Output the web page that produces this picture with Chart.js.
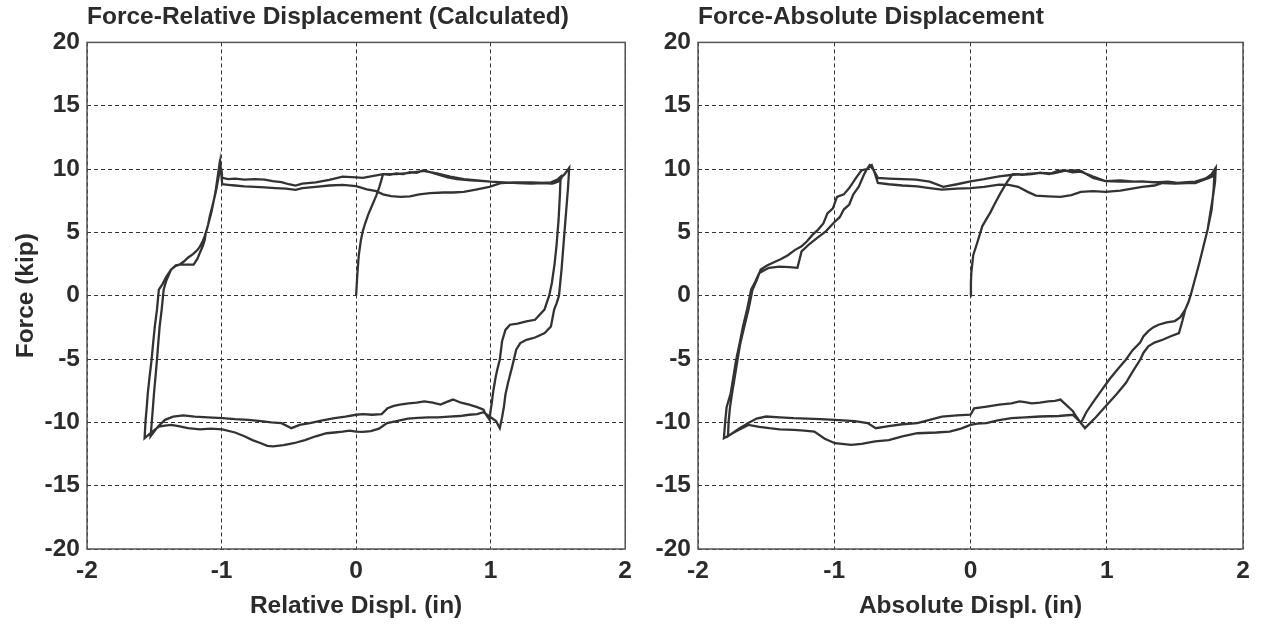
<!DOCTYPE html>
<html>
<head>
<meta charset="utf-8">
<script src="https://cdn.jsdelivr.net/npm/chart.js@4.4.1/dist/chart.umd.min.js"></script>
<style>
  html, body { margin: 0; padding: 0; background: #fff; }
  .panel { position: absolute; top: 0; height: 624px; }
  #leftBox { left: 0; width: 640px; }
  #rightBox { left: 640px; width: 630px; }
</style>
</head>
<body>
<div class="panel" id="leftBox"><canvas id="relChart"></canvas></div>
<div class="panel" id="rightBox"><canvas id="absChart"></canvas></div>
<script>
// Force vs. relative displacement (calculated), path order
const relDispl = [
  0, 0.01, 0.02, 0.036, 0.05, 0.067, 0.09, 0.118, 0.15, 0.173, 0.19, 0.2,
  0.25, 0.3, 0.35, 0.4, 0.45, 0.5, 0.55, 0.6, 0.68, 0.75, 0.85, 0.95, 1.0, 1.1, 1.2, 1.3, 1.38, 1.45, 1.5, 1.52,
  1.515, 1.505, 1.49, 1.475, 1.455, 1.435, 1.40, 1.33, 1.266, 1.2, 1.144, 1.11, 1.085, 1.068, 1.05, 1.038, 1.02, 1.008, 0.998, 0.992,
  0.96, 0.947, 0.9, 0.84, 0.78, 0.72, 0.67, 0.628, 0.57, 0.507, 0.45, 0.39, 0.325, 0.28, 0.234, 0.19, 0.12, 0.05, 0, -0.08, -0.16, -0.25, -0.343, -0.42, -0.48, -0.555, -0.63, -0.707, -0.8, -0.9, -0.995, -1.1, -1.2, -1.284, -1.36, -1.42, -1.47, -1.527,
  -1.515, -1.502, -1.49, -1.48, -1.47, -1.46, -1.445, -1.43, -1.41, -1.375, -1.34, -1.314, -1.26, -1.208, -1.18, -1.162, -1.14, -1.125, -1.117, -1.1, -1.087, -1.07, -1.056, -1.045, -1.035, -1.02, -1.01,
  -1.0, -0.995, -0.95, -0.9, -0.83, -0.75, -0.68, -0.6, -0.52, -0.45, -0.4, -0.3, -0.2, -0.1, 0, 0.08, 0.15, 0.2, 0.26, 0.33, 0.4, 0.47, 0.55, 0.65, 0.72, 0.8, 0.9, 0.99, 1.08, 1.18, 1.3, 1.4, 1.45, 1.5, 1.55, 1.584,
  1.575, 1.56, 1.545, 1.528, 1.508, 1.49, 1.472, 1.448, 1.402, 1.33, 1.266, 1.22, 1.19, 1.16, 1.129, 1.11, 1.099, 1.085, 1.068,
  1.04, 1.0, 0.947, 0.9, 0.84, 0.77, 0.69, 0.61, 0.537, 0.46, 0.385, 0.3, 0.23, 0.17, 0.11, 0.05, 0, -0.05, -0.1, -0.16, -0.22, -0.3, -0.38, -0.464, -0.54, -0.616, -0.66, -0.707, -0.77, -0.83, -0.9, -0.995, -1.08, -1.16, -1.25, -1.32, -1.375, -1.42, -1.466, -1.52, -1.572,
  -1.565, -1.556, -1.548, -1.535, -1.52, -1.508, -1.496, -1.48, -1.466, -1.44, -1.41, -1.375, -1.34, -1.314, -1.28, -1.25, -1.21, -1.18, -1.16, -1.14, -1.125, -1.11, -1.095, -1.075, -1.06, -1.045, -1.03, -1.015,
  -1.0, -0.995, -0.95, -0.9, -0.83, -0.75, -0.68, -0.62, -0.555, -0.5, -0.45, -0.4, -0.3, -0.2, -0.1, 0, 0.05, 0.12, 0.2, 0.3, 0.4, 0.5, 0.6, 0.7, 0.8, 0.9, 1.0, 1.1, 1.2, 1.3, 1.4, 1.46, 1.5, 1.53
];
const relForce = [
  0, 1.8, 3.2, 4.4, 5.1, 5.7, 6.4, 7.1, 7.9, 8.6, 9.2, 9.6,
  9.55, 9.65, 9.6, 9.75, 9.7, 9.9, 9.75, 9.6, 9.35, 9.2, 9.1, 9.05, 9.0, 8.95, 8.9, 8.85, 8.9, 8.95, 9.2, 9.4,
  8.0, 6.0, 4.0, 2.5, 1.0, 0.0, -1.1, -1.9, -2.03, -2.2, -2.29, -2.7, -3.6, -5.06, -5.8, -6.38, -7.5, -8.5, -9.2, -9.8,
  -9.3, -9.0, -8.8, -8.6, -8.45, -8.2, -8.4, -8.6, -8.45, -8.35, -8.45, -8.5, -8.6, -8.7, -8.88, -9.35, -9.4, -9.35, -9.4, -9.55, -9.67, -9.85, -10.06, -10.2, -10.46, -10.06, -10.0, -9.9, -9.8, -9.75, -9.67, -9.6, -9.55, -9.45, -9.55, -9.8, -10.3, -11.1,
  -9.5, -7.7, -6.3, -5.06, -3.7, -2.43, -1.1, 0.5, 1.2, 2.06, 2.4, 2.45, 2.45, 2.45, 2.9, 3.37, 3.9, 4.4, 4.98, 5.6, 6.3, 7.0, 7.6, 8.1, 8.6, 9.5, 10.5,
  9.4, 8.8, 8.75, 8.7, 8.64, 8.6, 8.55, 8.5, 8.45, 8.35, 8.5, 8.6, 8.7, 8.75, 8.65, 8.4, 8.25, 8.0, 7.86, 7.8, 7.85, 8.0, 8.1, 8.15, 8.15, 8.2, 8.4, 8.6, 8.9, 8.95, 8.95, 8.9, 8.85, 9.1, 9.6, 10.1,
  8.5, 6.5, 4.5, 2.2, 0, -0.6, -1.1, -2.43, -2.95, -3.3, -3.48, -3.74, -4.27, -5.6, -6.9, -7.8, -8.75, -9.6, -10.46,
  -9.9, -9.6, -9.2, -9.35, -9.4, -9.5, -9.54, -9.6, -9.6, -9.65, -9.7, -9.9, -10.06, -10.5, -10.7, -10.75, -10.73, -10.65, -10.73, -10.8, -10.86, -11.1, -11.4, -11.65, -11.8, -11.9, -11.85, -11.65, -11.4, -11.1, -10.8, -10.56, -10.5, -10.55, -10.45, -10.3, -10.2, -10.25, -10.33, -10.8, -11.25,
  -9.9, -8.8, -7.7, -6.4, -5.06, -3.7, -2.43, -1.1, 0.47, 0.9, 1.5, 2.06, 2.35, 2.45, 2.7, 3.0, 3.3, 3.6, 3.9, 4.3, 4.7, 5.2, 5.8, 6.6, 7.4, 8.2, 9.3, 10.4,
  9.9, 9.3, 9.2, 9.25, 9.17, 9.2, 9.17, 9.05, 8.96, 8.8, 8.7, 8.85, 8.95, 9.15, 9.4, 9.35, 9.3, 9.45, 9.6, 9.6, 9.7, 9.85, 9.65, 9.4, 9.2, 9.1, 9.0, 8.95, 8.9, 8.85, 8.9, 8.85, 9.0, 9.3
];

// Force vs. absolute displacement
const absDispl = [
  0, 0.003, 0.006, 0.02, 0.05, 0.087, 0.12, 0.147, 0.18, 0.22, 0.27, 0.31,
  0.38, 0.45, 0.51, 0.58, 0.64, 0.69, 0.75, 0.81, 0.9, 0.99, 1.1, 1.2, 1.26, 1.35, 1.45, 1.52, 1.59, 1.65, 1.71, 1.76, 1.79,
  1.785, 1.77, 1.74, 1.71, 1.68, 1.65, 1.62, 1.6, 1.576, 1.54, 1.5, 1.44, 1.38, 1.34, 1.305, 1.27, 1.245, 1.19, 1.14, 1.08, 1.02, 0.96, 0.9, 0.85, 0.81,
  0.78, 0.75, 0.7, 0.66, 0.62, 0.57, 0.51, 0.45, 0.4, 0.36, 0.3, 0.21, 0.12, 0.027, 0, -0.1, -0.21, -0.3, -0.39, -0.5, -0.6, -0.695, -0.755, -0.85, -0.995, -1.1, -1.2, -1.296, -1.4, -1.5, -1.57, -1.63, -1.7, -1.78,
  -1.775, -1.765, -1.75, -1.73, -1.71, -1.69, -1.66, -1.63, -1.6, -1.57, -1.54, -1.49, -1.45, -1.39, -1.34, -1.29, -1.24, -1.2, -1.16, -1.12, -1.08, -1.05, -1.01, -0.98, -0.93, -0.89, -0.84, -0.8, -0.76, -0.725,
  -0.7, -0.68, -0.6, -0.5, -0.39, -0.3, -0.21, -0.1, 0, 0.1, 0.21, 0.28, 0.35, 0.42, 0.48, 0.57, 0.66, 0.74, 0.81, 0.9, 0.99, 1.1, 1.26, 1.35, 1.41, 1.5, 1.59, 1.66, 1.72, 1.77, 1.8,
  1.795, 1.78, 1.74, 1.71, 1.68, 1.65, 1.62, 1.6, 1.576, 1.555, 1.53, 1.47, 1.41, 1.35, 1.305, 1.27, 1.245, 1.19, 1.14, 1.07, 0.99, 0.92, 0.84,
  0.8, 0.75, 0.65, 0.51, 0.4, 0.3, 0.2, 0.117, 0.05, 0, -0.07, -0.153, -0.25, -0.39, -0.5, -0.6, -0.7, -0.8, -0.875, -0.995, -1.07, -1.146, -1.22, -1.296, -1.4, -1.477, -1.55, -1.63, -1.72, -1.81,
  -1.8, -1.79, -1.76, -1.74, -1.72, -1.695, -1.67, -1.64, -1.61, -1.58, -1.55, -1.48, -1.4, -1.33, -1.27, -1.24, -1.18, -1.12, -1.06, -1.0, -0.96, -0.93, -0.89, -0.86, -0.82, -0.78, -0.76, -0.74,
  -0.71, -0.68, -0.6, -0.5, -0.4, -0.3, -0.2, -0.1, 0, 0.1, 0.21, 0.31, 0.4, 0.51, 0.6, 0.69, 0.76, 0.81, 0.9, 0.99, 1.1, 1.26, 1.4, 1.59, 1.65, 1.7, 1.75, 1.79
];
const absForce = [
  0, 1.0, 1.8, 3.2, 4.2, 5.5, 6.1, 6.6, 7.3, 8.1, 9.0, 9.6,
  9.55, 9.6, 9.7, 9.6, 9.85, 9.9, 9.75, 9.8, 9.4, 9.05, 9.1, 9.0, 9.03, 8.95, 9.0, 8.9, 8.96, 9.0, 9.2, 9.4, 9.6,
  8.5, 6.8, 5.2, 3.9, 2.6, 1.4, 0.2, -0.5, -1.1, -1.7, -2.0, -2.1, -2.29, -2.5, -2.8, -3.2, -3.7, -4.3, -5.06, -5.8, -6.6, -7.5, -8.4, -9.2, -10.06,
  -9.6, -9.1, -8.6, -8.2, -8.3, -8.35, -8.45, -8.5, -8.4, -8.35, -8.5, -8.6, -8.75, -8.9, -9.4, -9.45, -9.54, -9.8, -10.06, -10.15, -10.3, -10.46, -10.06, -9.9, -9.8, -9.75, -9.7, -9.67, -9.6, -9.54, -9.7, -10.06, -10.5, -11.1,
  -9.9, -8.8, -7.7, -6.4, -5.06, -3.8, -2.43, -1.1, 0.47, 1.2, 2.06, 2.4, 2.6, 2.9, 3.2, 3.6, 3.9, 4.3, 4.8, 5.2, 5.7, 6.5, 6.9, 7.8, 8.0, 8.5, 9.3, 9.9, 10.0, 10.3,
  9.6, 8.9, 8.8, 8.7, 8.64, 8.5, 8.38, 8.45, 8.5, 8.6, 8.77, 8.75, 8.6, 8.2, 7.9, 7.85, 7.8, 7.95, 8.2, 8.25, 8.2, 8.3, 8.6, 8.7, 8.9, 8.85, 8.9, 9.0, 9.2, 9.6, 10.1,
  9.0, 7.86, 5.2, 3.9, 2.6, 1.4, 0.2, -0.5, -1.1, -2.0, -2.95, -3.2, -3.48, -3.7, -4.0, -4.5, -5.06, -6.0, -6.9, -7.8, -8.75, -9.6, -10.46,
  -9.9, -9.4, -9.5, -9.54, -9.6, -9.67, -9.85, -10.06, -10.1, -10.2, -10.5, -10.73, -10.8, -10.86, -11.1, -11.4, -11.5, -11.7, -11.78, -11.65, -11.3, -10.73, -10.65, -10.6, -10.55, -10.46, -10.35, -10.2, -10.7, -11.25,
  -9.9, -8.8, -7.7, -6.4, -5.06, -3.8, -2.43, -1.1, 0.47, 1.1, 1.8, 2.2, 2.3, 2.25, 2.2, 3.5, 4.1, 4.6, 5.1, 5.8, 6.2, 6.8, 7.2, 8.0, 8.6, 9.6, 10.0, 10.3,
  9.9, 9.3, 9.25, 9.2, 9.17, 9.0, 8.6, 8.8, 9.03, 9.2, 9.43, 9.55, 9.6, 9.7, 9.65, 9.85, 9.9, 9.85, 9.3, 9.05, 9.0, 9.0, 8.95, 8.9, 8.9, 9.1, 9.3, 9.5
];

// axis ticks
const xTicks = [-2, -1, 0, 1, 2];
const yTicks = [-20, -15, -10, -5, 0, 5, 10, 15, 20];

const FONT = "'Liberation Sans', Arial, Helvetica, sans-serif";
const INK = '#2b2b2b';

// MATLAB style box round the plot area
const boxPlugin = {
  id: 'box',
  afterDraw(chart) {
    const a = chart.chartArea;
    const c = chart.ctx;
    c.save();
    c.strokeStyle = '#555';
    c.lineWidth = 1.5;
    c.strokeRect(a.left, a.top, a.right - a.left, a.bottom - a.top);
    c.restore();
  }
};

function makeChart(id, xs, ys, title, xLabel, yLabel, yAxisWidth, padRight) {
  const pts = xs.map((x, i) => ({ x: x, y: ys[i] }));
  const txt = { family: FONT, size: 24.5, weight: 'bold' };
  return new Chart(document.getElementById(id).getContext('2d'), {
    type: 'scatter',
    data: {
      datasets: [{
        data: pts,
        showLine: true,
        borderColor: '#333',
        borderWidth: 2.3,
        pointRadius: 0,
        tension: 0
      }]
    },
    options: {
      responsive: true,
      maintainAspectRatio: false,
      animation: false,
      layout: { padding: { left: 0, right: padRight, top: 0, bottom: 0 } },
      plugins: {
        legend: { display: false },
        tooltip: { enabled: false },
        title: {
          display: true,
          text: title,
          align: 'start',
          fullSize: false,
          color: INK,
          font: txt,
          padding: { top: 3, bottom: 10 }
        }
      },
      scales: {
        x: {
          type: 'linear',
          min: -2, max: 2,
          afterBuildTicks: s => { s.ticks = xTicks.map(v => ({ value: v })); },
          afterFit: s => { s.height = 75; },
          ticks: { color: INK, font: txt, padding: 8 },
          grid: { color: '#333', lineWidth: 1, drawTicks: false },
          border: { display: false, dash: [4, 3] },
          title: {
            display: true, text: xLabel, color: INK,
            font: txt, padding: { top: 0, bottom: 3 }
          }
        },
        y: {
          type: 'linear',
          min: -20, max: 20,
          afterBuildTicks: s => { s.ticks = yTicks.map(v => ({ value: v })); },
          afterFit: s => { s.width = yAxisWidth; },
          ticks: { color: INK, font: txt, padding: 7 },
          grid: { color: '#333', lineWidth: 1, drawTicks: false },
          border: { display: false, dash: [4, 3] },
          title: {
            display: yLabel !== '', text: yLabel, color: INK,
            font: txt, padding: { top: 12, bottom: 0 }
          }
        }
      }
    },
    plugins: [boxPlugin]
  });
}

makeChart('relChart', relDispl, relForce, 'Force-Relative Displacement (Calculated)',
  'Relative Displ. (in)', 'Force (kip)', 87, 14);
makeChart('absChart', absDispl, absForce, 'Force-Absolute Displacement',
  'Absolute Displ. (in)', '', 58, 27);
</script>
</body>
</html>
